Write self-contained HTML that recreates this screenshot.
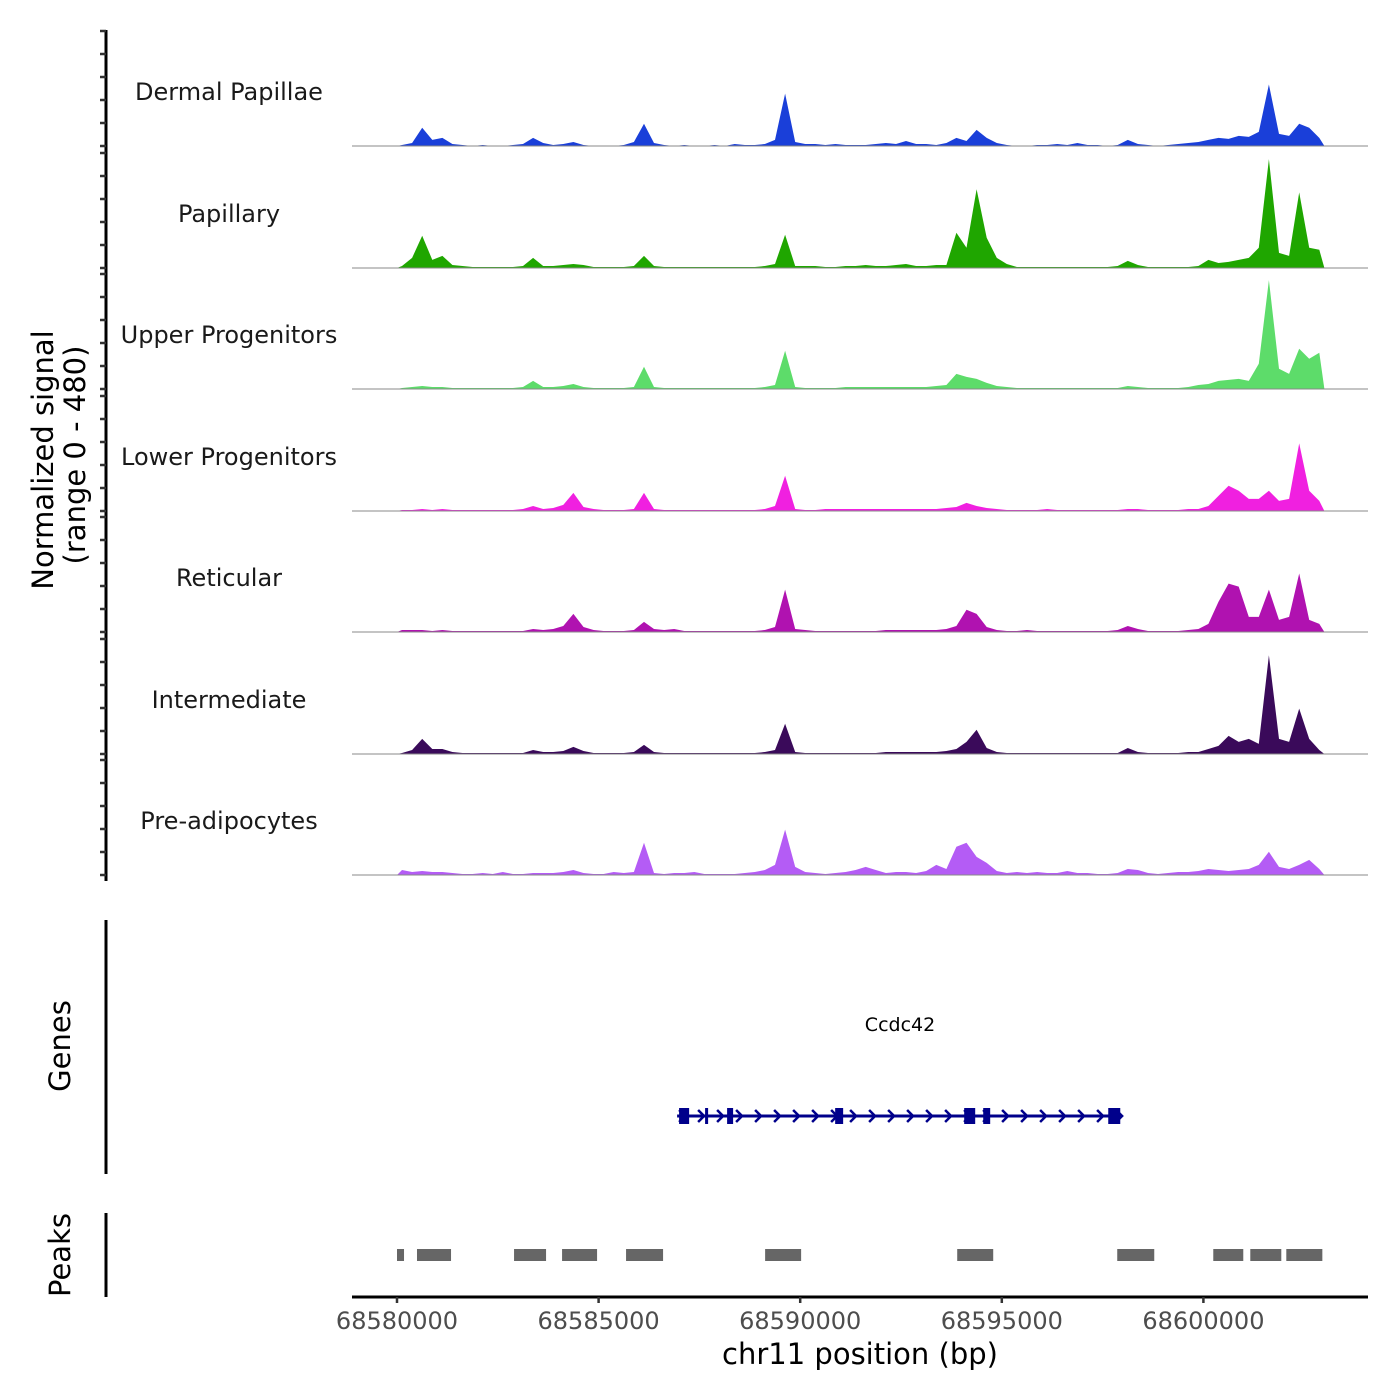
<!DOCTYPE html>
<html><head><meta charset="utf-8"><style>
html,body{margin:0;padding:0;background:#fff;}
svg{display:block;font-family:"DejaVu Sans","Liberation Sans",sans-serif;}
</style></head><body>
<svg id="chart" width="1400" height="1400" viewBox="0 0 1400 1400">
<g id="tracks"></g>
<g id="genes"></g>
<g id="peaks"></g>
<g id="axes"></g>
</svg>
<script>
const trackNames = ["Dermal Papillae","Papillary","Upper Progenitors","Lower Progenitors","Reticular","Intermediate","Pre-adipocytes"];
const trackColors = ["#1a3fd9","#1fa600","#5ddc6a","#f020e0","#b012b0","#3a0a5a","#b45cf5"];
const binStart = 68580000;
const binSize = 250;
const signalMax = 480;
const sigDermal = [4,12,72,24,32,8,4,0,4,0, 0,4,8,32,12,4,8,16,4,0, 0,0,4,16,88,12,4,0,4,0, 0,4,0,8,4,4,8,24,208,16, 8,8,4,8,4,4,4,8,12,8, 20,8,8,4,12,32,20,64,32,12, 4,0,0,4,4,8,4,12,4,4, 0,4,24,8,4,0,4,8,12,16, 24,32,28,40,36,56,244,48,40,88, 72,32];
const sigPapillary = [8,40,128,32,48,12,8,4,4,4, 4,4,8,40,8,8,12,16,12,4, 4,4,4,8,48,8,4,4,4,4, 4,4,4,4,4,4,8,16,132,8, 8,8,4,4,8,8,12,8,8,12, 16,8,8,12,12,140,80,312,120,40, 16,4,4,4,4,4,4,4,4,4, 4,8,28,12,4,4,4,4,4,8, 32,20,24,32,40,80,432,60,48,300, 80,72];
const sigUpper = [4,8,12,8,8,4,4,4,4,4, 4,4,8,32,8,8,12,20,8,4, 4,4,4,8,88,8,4,4,4,4, 4,4,4,4,4,4,8,16,152,8, 4,4,4,4,8,8,8,8,8,8, 8,8,8,12,16,60,48,40,24,12, 8,4,4,4,4,4,4,4,4,4, 4,4,12,8,4,4,4,4,8,16, 20,32,36,40,32,100,432,80,60,160, 120,144];
const sigLower = [4,4,8,4,8,4,4,4,4,4, 4,4,8,20,8,12,24,72,16,8, 4,4,4,8,72,8,4,4,4,4, 4,4,4,4,4,4,8,20,140,8, 4,4,8,8,8,8,8,8,8,8, 8,8,8,8,12,16,32,20,12,8, 4,4,4,4,8,4,4,4,4,4, 4,4,8,8,4,4,4,4,8,8, 20,60,100,80,48,48,80,40,48,268, 80,40];
const sigReticular = [8,8,8,4,8,4,4,4,4,4, 4,4,4,12,8,12,24,72,20,8, 4,4,4,8,40,12,8,12,4,4, 4,4,4,4,4,4,8,20,168,12, 8,4,4,4,4,4,4,4,8,8, 8,8,8,8,12,24,88,72,20,8, 4,4,8,4,4,4,4,4,4,4, 4,8,24,12,4,4,4,4,8,12, 32,120,192,180,60,60,168,48,60,232, 48,32];
const sigIntermediate = [4,16,60,20,20,8,4,4,4,4, 4,4,4,16,8,8,12,28,12,4, 4,4,4,8,36,8,4,4,4,4, 4,4,4,4,4,4,8,16,120,8, 4,4,4,4,4,4,4,4,8,8, 8,8,8,8,12,20,48,96,24,8, 4,4,4,4,4,4,4,4,4,4, 4,4,24,8,4,4,4,4,8,8, 20,32,72,48,60,40,392,60,48,180, 60,16];
const sigPreadipo = [20,12,16,12,12,8,4,4,8,4, 12,4,4,8,8,8,12,20,8,4, 4,12,8,12,128,8,4,8,8,12, 4,4,4,4,8,12,20,40,180,32, 12,8,4,8,12,20,32,20,8,12, 12,8,16,40,24,112,128,72,48,16, 8,12,8,12,8,8,16,8,8,4, 4,8,24,20,8,4,8,12,12,16, 24,20,16,20,24,40,92,32,24,40, 60,24];
const trackSignals = [sigDermal,sigPapillary,sigUpper,sigLower,sigReticular,sigIntermediate,sigPreadipo];
const peakStarts = [68580000,68580496,68582903,68584094,68585681,68589130,68593894,68597863,68600245,68601163,68602056];
const peakEnds   = [68580174,68581340,68583697,68584962,68586599,68590023,68594787,68598781,68600989,68601932,68602950];
const geneName = "Ccdc42";
const geneStart = 68586947, geneEnd = 68597938;
const exonStarts = [68586996,68587641,68588187,68590867,68594067,68594539,68597640];
const exonEnds   = [68587245,68587716,68588336,68591065,68594340,68594712,68597938];
const xTicks = [68580000,68585000,68590000,68595000,68600000];

const NS="http://www.w3.org/2000/svg";
const X0=397, PXPER=201.6/5000;
const xs = bp => X0 + (bp-68580000)*PXPER;
const baselines=[146,268,389,511,632,754,875];
const trackH=121;
function mk(tag,attrs,parent){const e=document.createElementNS(NS,tag);for(const k in attrs)e.setAttribute(k,attrs[k]);parent.appendChild(e);return e;}
const gT=document.getElementById('tracks');
trackSignals.forEach((sig,t)=>{
  const b=baselines[t];
  const ys=v=>b - v/signalMax*trackH;
  let d=`M${xs(binStart).toFixed(1)},${b}`;
  sig.forEach((v,i)=>{d+=` L${xs(binStart+(i+0.5)*binSize).toFixed(1)},${ys(v).toFixed(1)}`;});
  d+=` L${xs(binStart+sig.length*binSize).toFixed(1)},${b} Z`;
  const a=mk('path',{d:d,fill:trackColors[t]},gT);
  
  
  const ln=mk('line',{x1:352,x2:1368,y1:b,y2:b,stroke:'#888','stroke-width':1},gT);
  
  
  const lb=mk('text',{x:229,y:b-46,'text-anchor':'middle','font-size':24,fill:'#1a1a1a'},gT);
  lb.textContent=trackNames[t];
  
  
});
// genes
const gG=document.getElementById('genes');
const gl=mk('text',{x:900,y:1031,'text-anchor':'middle','font-size':19,fill:'#000'},gG);
gl.textContent=geneName;


const gy=1116;
const gline=mk('line',{x1:xs(geneStart),x2:xs(geneEnd),y1:gy,y2:gy,stroke:'#00008b','stroke-width':3},gG);


for(let x=xs(geneStart)+2;x<xs(geneEnd)-4;x+=19){
  const ch=mk('path',{d:`M${x},${gy-6} L${x+6},${gy} L${x},${gy+6}`,fill:'none',stroke:'#00008b','stroke-width':2.5},gG);
  
  
}
exonStarts.forEach((s,i)=>{
  const x1=xs(s),x2=xs(exonEnds[i]);
  const r=mk('rect',{x:x1,y:gy-8,width:Math.max(3,x2-x1),height:16,fill:'#00008b'},gG);
  
  
});
// peaks
const gP=document.getElementById('peaks');
peakStarts.forEach((s,i)=>{
  const x1=xs(s),x2=xs(peakEnds[i]);
  const r=mk('rect',{x:x1,y:1249,width:x2-x1,height:12,fill:'#666'},gP);
  
  
});
// axes
const gA=document.getElementById('axes');
mk('line',{x1:106,x2:106,y1:30,y2:881,stroke:'#000','stroke-width':3},gA);
baselines.forEach(b=>{for(let k=0;k<6;k++){mk('line',{x1:100,x2:106,y1:b-k*23,y2:b-k*23,stroke:'#333','stroke-width':2.5},gA);}});
mk('line',{x1:106,x2:106,y1:920,y2:1174,stroke:'#000','stroke-width':3},gA);
mk('line',{x1:106,x2:106,y1:1213,y2:1297,stroke:'#000','stroke-width':3},gA);
mk('line',{x1:352,x2:1368,y1:1297,y2:1297,stroke:'#000','stroke-width':3},gA);
xTicks.forEach(v=>{
  mk('line',{x1:xs(v),x2:xs(v),y1:1297,y2:1303,stroke:'#333','stroke-width':2.5},gA);
  const t=mk('text',{x:xs(v),y:1329,'text-anchor':'middle','font-size':24,fill:'#4d4d4d'},gA);
  t.textContent=v;
  
  
});
function txt(s,attrs,name){const t=mk('text',attrs,gA);t.textContent=s;return t;}
txt('chr11 position (bp)',{x:860,y:1364,'text-anchor':'middle','font-size':29,fill:'#000'},'x-axis-title');
txt('Normalized signal',{x:0,y:0,transform:'translate(53,460) rotate(-90)','text-anchor':'middle','font-size':29,fill:'#000'},'y-axis-title');
txt('(range 0 - 480)',{x:0,y:0,transform:'translate(85,455) rotate(-90)','text-anchor':'middle','font-size':29,fill:'#000'},'y-axis-subtitle');
txt('Genes',{x:0,y:0,transform:'translate(70,1046) rotate(-90)','text-anchor':'middle','font-size':29,fill:'#000'},'genes-title');
txt('Peaks',{x:0,y:0,transform:'translate(70,1255) rotate(-90)','text-anchor':'middle','font-size':29,fill:'#000'},'peaks-title');
</script>
</body></html>
